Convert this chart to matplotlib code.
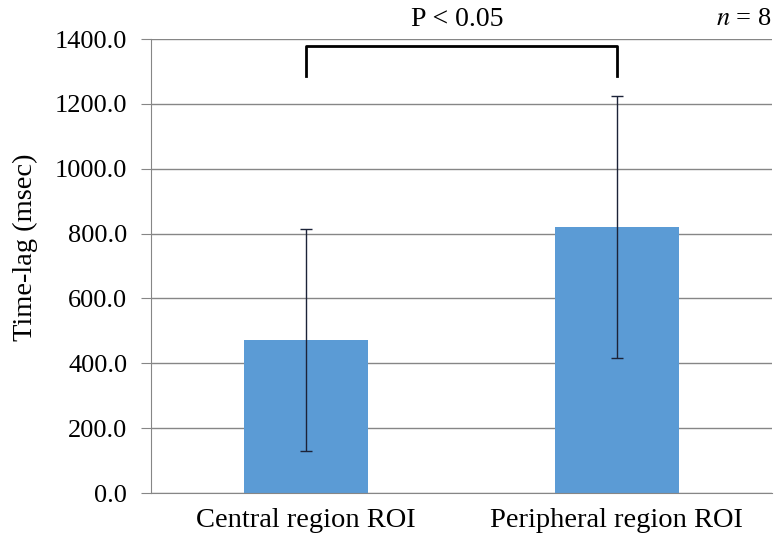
import matplotlib
matplotlib.use('Agg')
import matplotlib.pyplot as plt
import numpy as np

# Chart data.
categories = ['Central region ROI', 'Peripheral region ROI']
means = [472.0, 820.0]
errors = [342.0, 404.0]
yticks = [0, 200, 400, 600, 800, 1000, 1200, 1400]
bracket_top = 1378
bracket_bottom = 1286

plt.rcParams['font.family'] = ['Liberation Serif', 'DejaVu Serif']

fig = plt.figure(figsize=(7.77, 5.39), dpi=100)
ax = fig.add_axes([0.1943, 0.0853, 0.7993, 0.8423])

x = np.arange(len(categories))
ax.bar(x, means, width=0.4, color='#5B9BD5', zorder=2)
ax.errorbar(x, means, yerr=errors, fmt='none', ecolor='#1c2338',
            elinewidth=1, capsize=4, capthick=1, zorder=3)

# Significance bracket between the two bars.
ax.plot([x[0], x[0], x[1], x[1]],
        [bracket_bottom, bracket_top, bracket_top, bracket_bottom],
        color='black', lw=2, clip_on=False, zorder=4)

ax.set_xlim(-0.5, 1.5)
ax.set_ylim(0, 1400)
ax.set_yticks(yticks)
ax.set_yticklabels(['%.1f' % v for v in yticks], fontsize=19)
ax.set_xticks(x)
ax.set_xticklabels(categories, fontsize=20.5)
ax.tick_params(axis='x', length=0, pad=11)
ax.tick_params(axis='y', length=7, color='#868686', pad=10)

ax.yaxis.grid(True, color='#868686', lw=1, zorder=0)
ax.set_axisbelow(True)
for side in ['top', 'right']:
    ax.spines[side].set_visible(False)
ax.spines['left'].set_color('#868686')
ax.spines['bottom'].set_color('#868686')

# Y label and the annotations above the plot.
fig.text(25 / 777, 1 - 247 / 539, 'Time-lag (msec)', fontsize=20.5,
         rotation=90, ha='center', va='center')
fig.text(0.588, 0.964, 'P < 0.05', fontsize=20, ha='center', va='center')
fig.text(0.993, 0.964, r'$n$ = 8', fontsize=19, ha='right', va='center',
         math_fontfamily='stix')

fig.savefig('out.png', dpi=100)
